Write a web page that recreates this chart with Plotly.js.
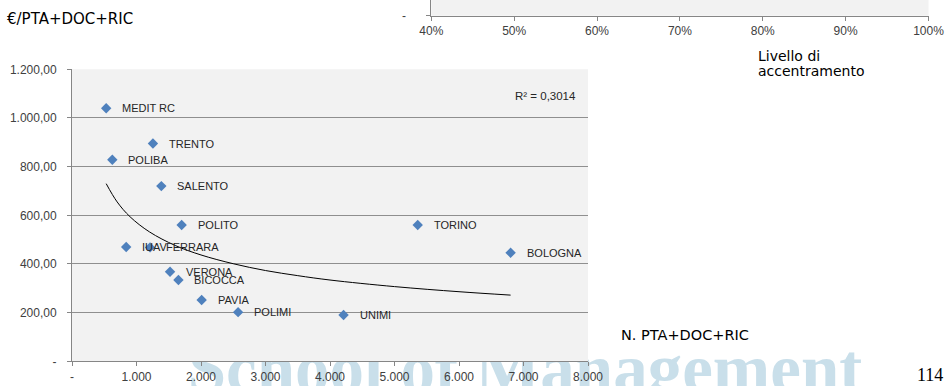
<!DOCTYPE html>
<html><head><meta charset="utf-8">
<script src="https://cdn.plot.ly/plotly-3.0.1.min.js"></script>
<style>html,body{margin:0;padding:0;background:#fff}#chart{width:946px;height:386px}</style>
</head><body><div id="chart"></div>
<script>
// ---- data ----
const universities = ["MEDIT RC","TRENTO","POLIBA","SALENTO","POLITO","IUAV","FERRARA","VERONA","BICOCCA","PAVIA","POLIMI","TORINO","BOLOGNA","UNIMI"];
const staffCount   = [530,1255,625,1385,1700,840,1210,1520,1650,2010,2575,5360,6800,4210];
const costPerStaff = [1040,895,828,720,560,470,468,368,334,252,202,560,446,190];
// trend line (power trendline)
const trendX = [530,700,900,1200,1600,2000,2500,3000,3500,4000,5000,6000,6800];
const trendY = [730,655,594,532,476,437,401,373,352,334,307,286,272];
const r2Label = "R² = 0,3014";
const xTickVals = [0,1000,2000,3000,4000,5000,6000,7000,8000];
const xTickText = ["-","1.000","2.000","3.000","4.000","5.000","6.000","7.000","8.000"];
const yTickVals = [0,200,400,600,800,1000,1200];
const yTickText = ["-","200,00","400,00","600,00","800,00","1.000,00","1.200,00"];
const topTickVals = [0.4,0.5,0.6,0.7,0.8,0.9,1.0];
const topTickText = ["40%","50%","60%","70%","80%","90%","100%"];
const yTitle = "€/PTA+DOC+RIC";
const xTitle = "N. PTA+DOC+RIC";
const topTitle1 = "Livello di";
const topTitle2 = "accentramento";
const pageNumber = "114";
const watermark = "School of Management";

const W = 946, H = 386;
const px = v => v / W;
const py = v => 1 - v / H;

const axisCol = "#868686";
const gridCol = "#8f8f8f";
const tickFont = {family: "Liberation Sans, Arial, sans-serif", size: 12, color: "#404040"};

const traces = [
  {type: "scatter", mode: "lines", x: trendX, y: trendY, line: {color: "#000", width: 1, shape: "spline"}, hoverinfo: "skip", xaxis: "x", yaxis: "y"},
  {type: "scatter", mode: "markers", x: staffCount, y: costPerStaff, text: universities,
   marker: {symbol: "diamond", size: 8, color: "#4f81bd", line: {width: 0}}, xaxis: "x", yaxis: "y"},
  {type: "scatter", mode: "markers", x: [], y: [], xaxis: "x2", yaxis: "y2"}
];

const annotations = universities.map((u, i) => ({
  x: staffCount[i], y: costPerStaff[i], xref: "x", yref: "y", text: u, showarrow: false,
  xanchor: "left", yanchor: "middle", xshift: 14,
  font: {family: "Liberation Sans, Arial, sans-serif", size: 11, color: "#262626"}
}));
const txtFont = {family: "DejaVu Sans, Verdana, sans-serif", size: 14, color: "#000"};
annotations.push(
  {xref: "paper", yref: "paper", x: px(578), y: py(96), xanchor: "right", yanchor: "middle", text: r2Label, showarrow: false,
   font: {family: "Liberation Sans, Arial, sans-serif", size: 11.5, color: "#262626"}},
  {xref: "paper", yref: "paper", x: px(5), y: py(19), xanchor: "left", yanchor: "middle", text: yTitle, showarrow: false,
   font: {family: "DejaVu Sans, Verdana, sans-serif", size: 15, color: "#000"}},
  {xref: "paper", yref: "paper", x: px(619), y: py(335), xanchor: "left", yanchor: "middle", text: xTitle, showarrow: false,
   font: {family: "DejaVu Sans, Verdana, sans-serif", size: 14.5, color: "#000"}},
  {xref: "paper", yref: "paper", x: px(756), y: py(56), xanchor: "left", yanchor: "middle", text: topTitle1, showarrow: false, font: txtFont},
  {xref: "paper", yref: "paper", x: px(756), y: py(71), xanchor: "left", yanchor: "middle", text: topTitle2, showarrow: false, font: txtFont},
  {xref: "paper", yref: "paper", x: px(930), y: py(375), xanchor: "center", yanchor: "middle", text: pageNumber, showarrow: false,
   font: {family: "Liberation Serif, Times New Roman, serif", size: 18, color: "#000"}}
);

const shapes = [
  // slide watermark, under everything
  {type: "rect", xref: "paper", yref: "paper", x0: px(130), x1: px(920), y0: py(396), y1: py(326), layer: "below",
   line: {width: 0}, fillcolor: "rgba(0,0,0,0)",
   label: {text: watermark, textposition: "middle center",
     font: {family: "Liberation Serif, Times New Roman, serif", size: 69, color: "#c9dfea", weight: "bold"}}},
  // plot area backgrounds
  {type: "rect", xref: "x domain", yref: "y domain", x0: 0, x1: 1, y0: 0, y1: 1, layer: "below", line: {width: 0}, fillcolor: "#f2f2f2"},
  {type: "rect", xref: "x2 domain", yref: "y2 domain", x0: 0, x1: 1, y0: 0, y1: 1, layer: "below", line: {width: 0}, fillcolor: "#f2f2f2"}
];

const layout = {
  width: W, height: H, margin: {l: 0, r: 0, t: 0, b: 0},
  paper_bgcolor: "#fff", plot_bgcolor: "rgba(0,0,0,0)", showlegend: false,
  xaxis: {domain: [px(72), px(588)], range: [0, 8000], tickvals: xTickVals, ticktext: xTickText,
    showline: true, linecolor: axisCol, linewidth: 1, ticks: "outside", ticklen: 4, tickcolor: axisCol,
    showgrid: false, zeroline: false, tickfont: tickFont, anchor: "y", fixedrange: true},
  yaxis: {domain: [1 - 361.3 / H, 1 - 69.3 / H], range: [0, 1200], tickvals: yTickVals, ticktext: yTickText,
    showline: true, linecolor: axisCol, linewidth: 1, ticks: "outside", ticklen: 4, tickcolor: axisCol,
    showgrid: true, gridcolor: gridCol, gridwidth: 1, zeroline: false, tickfont: tickFont, anchor: "x",
    ticklabelstandoff: 8, fixedrange: true},
  xaxis2: {domain: [px(431.3), px(928.5)], range: [0.4, 1.0], tickvals: topTickVals, ticktext: topTickText,
    showline: true, linecolor: axisCol, linewidth: 1, ticks: "outside", ticklen: 4, tickcolor: axisCol,
    showgrid: false, zeroline: false, tickfont: tickFont, anchor: "y2", fixedrange: true},
  yaxis2: {domain: [1 - 15.7 / H, 1], range: [0, 1], tickvals: [0], ticktext: ["-"],
    showline: true, linecolor: axisCol, linewidth: 1, ticks: "outside", ticklen: 4, tickcolor: axisCol,
    showgrid: false, zeroline: false, tickfont: tickFont, anchor: "x2", ticklabelstandoff: 18, fixedrange: true},
  annotations: annotations,
  shapes: shapes
};

Plotly.newPlot("chart", traces, layout, {staticPlot: true, displayModeBar: false});
</script>
</body></html>
